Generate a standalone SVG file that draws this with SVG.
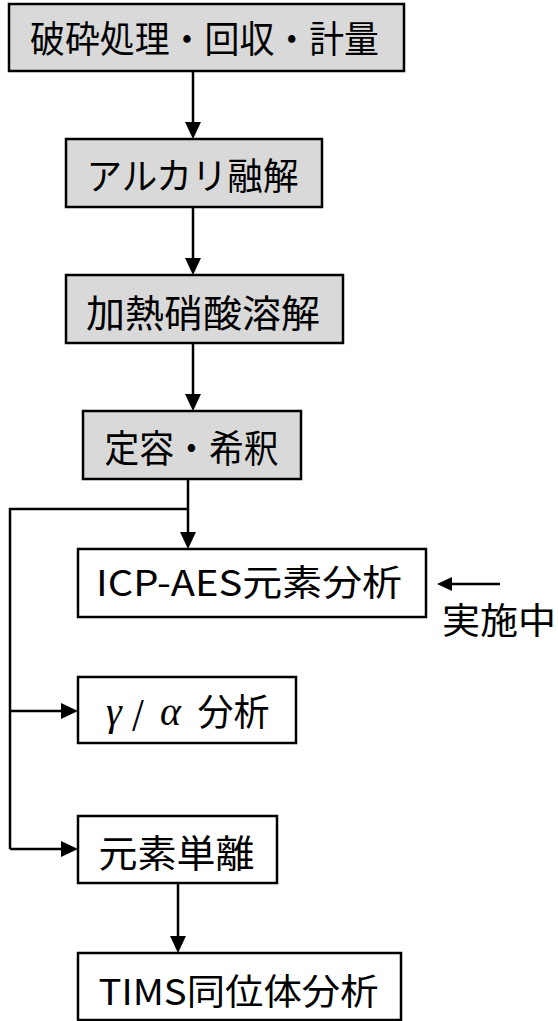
<svg xmlns="http://www.w3.org/2000/svg" width="558" height="1021" viewBox="0 0 558 1021">
<style>
.box{stroke:#000;stroke-width:2.5}
.gray{fill:#d9d9d9}
.white{fill:#fff}
.t{font-family:"Noto Sans CJK JP","Noto Sans",sans-serif;font-weight:400;fill:#000;text-anchor:middle}
.g{font-family:"Liberation Serif","DejaVu Serif",serif;font-style:italic;fill:#000}
.ln{stroke:#000;stroke-width:2.5;fill:none}
.hd{fill:#000;stroke:none}
</style>
<defs>
<path id="down" d="M-8,-17 L8,-17 L0,0 Z"/>
<path id="right" d="M-17,-8 L-17,8 L0,0 Z"/>
</defs>
<rect width="558" height="1021" fill="#fff"/>
<g id="connectors">
<line class="ln" x1="193" y1="71" x2="193" y2="124"/>
<use href="#down" class="hd" x="193" y="139"/>
<line class="ln" x1="193" y1="207" x2="193" y2="260"/>
<use href="#down" class="hd" x="193" y="275"/>
<line class="ln" x1="193" y1="343" x2="193" y2="396"/>
<use href="#down" class="hd" x="193" y="411"/>
<line class="ln" x1="188" y1="479" x2="188" y2="534"/>
<use href="#down" class="hd" x="188" y="549"/>
<polyline class="ln" points="188,509 10,509 10,849"/>
<line class="ln" x1="10" y1="711" x2="63" y2="711"/>
<use href="#right" class="hd" x="78" y="711"/>
<line class="ln" x1="10" y1="849" x2="63" y2="849"/>
<use href="#right" class="hd" x="78" y="849"/>
<line class="ln" x1="178" y1="883" x2="178" y2="938"/>
<use href="#down" class="hd" x="178" y="953"/>
<line class="ln" x1="500" y1="584" x2="450" y2="584"/>
<path class="hd" d="M437,584 L452,577 L452,591 Z"/>
</g>
<g id="n1">
<rect class="box gray" x="9" y="4" width="395" height="67"/>
<text class="t" x="204.5" y="52.5" font-size="37" textLength="349" lengthAdjust="spacingAndGlyphs">破砕処理・回収・計量</text>
</g>
<g id="n2">
<rect class="box gray" x="66" y="139" width="256" height="68"/>
<text class="t" x="192.5" y="190" font-size="37" textLength="212" lengthAdjust="spacingAndGlyphs">アルカリ融解</text>
</g>
<g id="n3">
<rect class="box gray" x="66" y="275" width="277" height="68"/>
<text class="t" x="203" y="327" font-size="38" textLength="234" lengthAdjust="spacingAndGlyphs">加熱硝酸溶解</text>
</g>
<g id="n4">
<rect class="box gray" x="83" y="411" width="218" height="68"/>
<text class="t" x="191.5" y="462" font-size="38" textLength="174" lengthAdjust="spacingAndGlyphs">定容・希釈</text>
</g>
<g id="n5">
<rect class="box white" x="78" y="549" width="348" height="68"/>
<text class="t" x="249" y="596" font-size="36" textLength="306" lengthAdjust="spacingAndGlyphs">ICP-AES元素分析</text>
</g>
<g id="n6">
<rect class="box white" x="78" y="677" width="218" height="66"/>
<text class="g" x="106" y="725" font-size="40">γ</text>
<text class="t" x="138" y="725" font-size="32">/</text>
<text class="g" x="160" y="725" font-size="40">α</text>
<text class="t" x="233.5" y="725.5" font-size="37" textLength="72" lengthAdjust="spacingAndGlyphs">分析</text>
</g>
<g id="n7">
<rect class="box white" x="78" y="816" width="199" height="67"/>
<text class="t" x="176.5" y="867" font-size="38" textLength="156" lengthAdjust="spacingAndGlyphs">元素単離</text>
</g>
<g id="n8">
<rect class="box white" x="78" y="953" width="323" height="67"/>
<text class="t" x="238.5" y="1005" font-size="36" textLength="280" lengthAdjust="spacingAndGlyphs">TIMS同位体分析</text>
</g>
<g id="label">
<text class="t" x="499" y="634" font-size="36" textLength="114" lengthAdjust="spacingAndGlyphs">実施中</text>
</g>
</svg>
